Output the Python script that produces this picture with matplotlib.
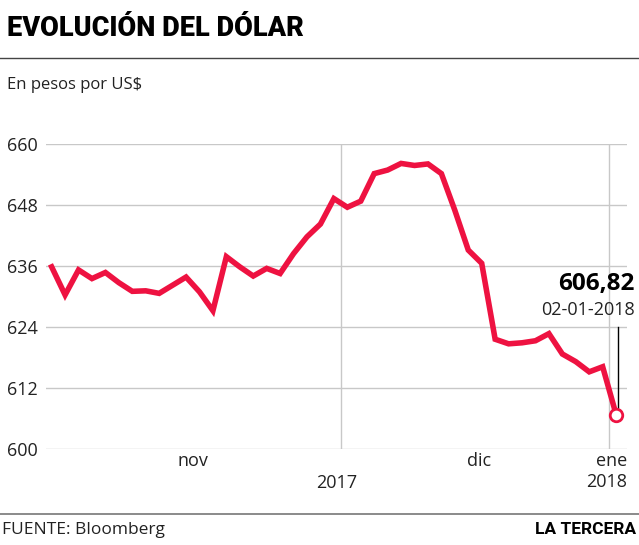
import matplotlib
matplotlib.use("Agg")
import matplotlib.pyplot as plt
import matplotlib.transforms as mtransforms

# datos (CLP por US$), cierres diarios
valores = [635.8, 630.3, 635.2, 633.5, 634.7, 632.7, 631.0, 631.1, 630.6, 632.2,
           633.8, 630.9, 627.2, 637.8, 635.8, 634.0, 635.5, 634.5, 638.4, 641.7,
           644.2, 649.2, 647.5, 648.7, 654.1, 654.8, 656.1, 655.7, 656.0, 654.1,
           646.9, 639.1, 636.5, 621.6, 620.7, 620.9, 621.3, 622.7, 618.7, 617.2,
           615.2, 616.2, 606.82]
x = list(range(len(valores)))

yticks = [600, 612, 624, 636, 648, 660]
mes_pos = [10.5, 31.8]
mes_lbl = ["nov", "dic"]
anio_lineas = [21.55, 41.49]

rojo = "#EE1241"
plt.rcParams['font.family'] = ['Open Sans', 'DejaVu Sans']

fig = plt.figure(figsize=(6.39, 5.45), dpi=100)
ax = fig.add_axes([0.072, 0.1756, 0.909, 0.561])

ax.plot(x, valores, color=rojo, lw=4, solid_joinstyle="miter", zorder=3)
ax.plot(x[-1], valores[-1], "o", ms=9, mfc="white", mec=rojo, mew=2, zorder=4)

ax.set_xlim(-0.42, 42.8)
ax.set_ylim(600, 660)
ax.set_yticks(yticks)
ax.set_yticklabels([str(v) for v in yticks], fontsize=13, color="#222222")
ax.tick_params(axis="y", length=0, pad=6)
ax.grid(axis="y", color="#c8c8c8", lw=1)
for v in anio_lineas:
    ax.axvline(v, color="#c8c8c8", lw=1, zorder=1)

ax.set_xticks(mes_pos)
ax.set_xticklabels(mes_lbl, fontsize=13, color="#222222")
ax.tick_params(axis="x", length=0, pad=2)
trans = mtransforms.blended_transform_factory(ax.transData, ax.transAxes)
ax.text(21.2, -0.082, "2017", transform=trans, ha="center", va="top", fontsize=13, color="#222222")
ax.text(42.8, -0.01, "ene\n2018", transform=trans, ha="right", va="top", fontsize=13,
        color="#222222", linespacing=1.2, multialignment="right")

for s in ax.spines.values():
    s.set_visible(False)

# anotacion del ultimo valor
ax.plot([x[-1] + 0.15, x[-1] + 0.15], [valores[-1] + 1.3, 624.0], color="black", lw=1, zorder=2)
ax.text(43.35, 632.4, "606,82", ha="right", va="center", fontsize=17.5, fontweight="bold",
        color="black", clip_on=False)
ax.text(43.35, 627.3, "02-01-2018", ha="right", va="center", fontsize=13, color="#222222",
        clip_on=False)

# titulo y textos
fig.text(0.011, 0.972, "EVOLUCIÓN DEL DÓLAR", ha="left", va="top", fontsize=19.5,
         fontweight="black", family="Roboto", color="black")
fig.add_artist(plt.Line2D([0, 1], [1 - 58.3 / 545] * 2, color="#444444", lw=1))
fig.text(0.011, 1 - 85 / 545, "En pesos por US$", ha="left", va="center", fontsize=12, color="#222222")

fig.add_artist(plt.Line2D([0, 1], [1 - 514 / 545] * 2, color="#777777", lw=1.2))
fig.text(0.003, 1 - 530 / 545, "FUENTE: Bloomberg", ha="left", va="center", fontsize=12.5, color="#222222")
fig.text(0.995, 1 - 530 / 545, "LA TERCERA", ha="right", va="center", fontsize=12.5,
         fontweight="bold", family="Roboto", color="black")

fig.savefig("out.png", dpi=100)
